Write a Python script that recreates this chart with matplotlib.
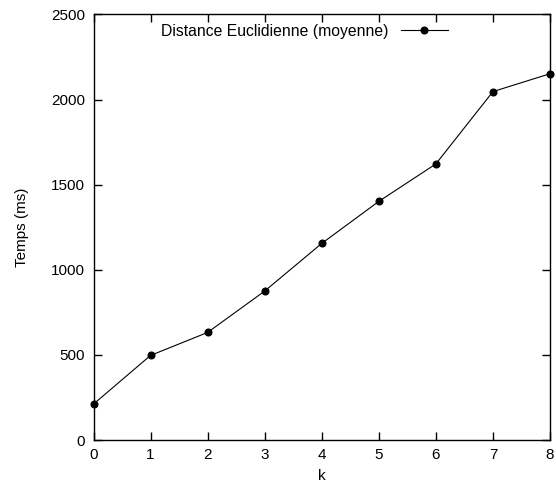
import matplotlib
matplotlib.use("Agg")
import matplotlib.pyplot as plt

plt.rcParams["font.family"] = ["Liberation Sans", "DejaVu Sans"]

# data
k = [0, 1, 2, 3, 4, 5, 6, 7, 8]
temps = [211, 497, 632, 875, 1155, 1402, 1622, 2047, 2152]
label = "Distance Euclidienne (moyenne)"

fig = plt.figure(figsize=(5.56, 4.90), dpi=100)
ax = fig.add_axes([93.5 / 556, 50 / 490, (550 - 93.5) / 556, (440 - 14.5) / 490])

ax.plot(k, temps, color="black", linewidth=0.8, marker="o", markersize=4.8,
        label=label, clip_on=False, zorder=3)

ax.set_xlim(0, 8)
ax.set_ylim(0, 2500)
ax.set_xticks(k)
ax.set_yticks([0, 500, 1000, 1500, 2000, 2500])
ax.tick_params(direction="in", top=True, right=True, length=6, width=1,
               labelsize=11, pad=6)
for s in ax.spines.values():
    s.set_linewidth(1)

ax.set_xlabel("k", fontsize=11, labelpad=5)
ax.set_ylabel("Temps (ms)", fontsize=11, labelpad=16)

leg = ax.legend(loc="upper right", bbox_to_anchor=(0.797, 1.0), frameon=False,
                markerfirst=False, fontsize=11.3, handlelength=3.0,
                handletextpad=0.8, borderaxespad=0.2)

fig.savefig("out.png", dpi=100)
